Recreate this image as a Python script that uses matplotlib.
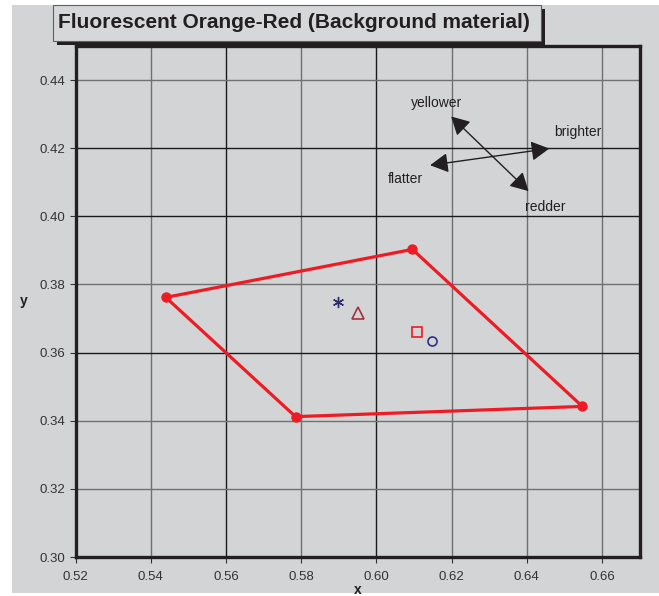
import matplotlib
matplotlib.use("Agg")
import matplotlib.pyplot as plt
from matplotlib.patches import Rectangle

plt.rcParams['font.family'] = ['Liberation Sans', 'DejaVu Sans']

# ---- data ----
poly_x = [0.544, 0.6096, 0.6548, 0.5785]
poly_y = [0.3762, 0.3903, 0.3442, 0.3412]

asterisk_xy = (0.5898, 0.3749)
triangle_xy = (0.5950, 0.3717)
square_xy = (0.6109, 0.3661)
circle_xy = (0.6148, 0.3635)

arrow1 = [(0.6199, 0.4293), (0.6405, 0.4074)]   # yellower <-> redder
arrow2 = [(0.6143, 0.4150), (0.6460, 0.4199)]   # flatter <-> brighter
label_text = ["yellower", "brighter", "flatter", "redder"]
label_x = [0.6159, 0.6535, 0.6078, 0.6449]
label_y = [0.4334, 0.4247, 0.4111, 0.4028]

x_ticks = [0.52, 0.54, 0.56, 0.58, 0.60, 0.62, 0.64, 0.66]
y_ticks = [0.30, 0.32, 0.34, 0.36, 0.38, 0.40, 0.42, 0.44]
title = "Fluorescent Orange-Red (Background material)"

W, H = 659, 596
fig = plt.figure(figsize=(W / 100, H / 100), dpi=100)
fig.patch.set_facecolor('white')

BG = '#d3d4d6'
DARK = '#231f20'

def fx(px):
    return px / W

def fy(py):
    return 1 - py / H

# gray background panel
fig.patches.append(Rectangle((fx(12), fy(593)), fx(659 - 12), (593 - 5) / H,
                             transform=fig.transFigure, facecolor=BG,
                             edgecolor='none', zorder=-10))
# title box shadow and box
fig.patches.append(Rectangle((fx(57), fy(45)), (545 - 57) / W, (45 - 9) / H,
                             transform=fig.transFigure, facecolor=DARK,
                             edgecolor='none', zorder=-9))
fig.patches.append(Rectangle((fx(53), fy(41)), (541 - 53) / W, (41 - 5) / H,
                             transform=fig.transFigure, facecolor='#d6d7d9',
                             edgecolor='#606060', linewidth=0.8, zorder=-8))
fig.text(fx(58), fy(23), title, fontsize=15, fontweight='bold', color=DARK,
         ha='left', va='center', zorder=3)

ax = fig.add_axes([fx(75.6), fy(557), (639.5 - 75.6) / W, (557 - 46) / H])
ax.set_facecolor(BG)
ax.set_xlim(0.52, 0.67)
ax.set_ylim(0.30, 0.45)
ax.set_xticks(x_ticks)
ax.set_yticks(y_ticks)
ax.set_xticklabels([f"{v:.2f}" for v in x_ticks])
ax.set_yticklabels([f"{v:.2f}" for v in y_ticks])
ax.tick_params(axis='both', labelsize=9.5, colors='#333333', length=4,
               width=0.8, direction='out')
ax.tick_params(axis='x', pad=6)

# grid lines (mix of dark and gray as in reference)
dark_x = [0.56, 0.60]
dark_y = [0.36, 0.40, 0.42]
for v in x_ticks[1:]:
    ax.axvline(v, color='#1a1a1a' if v in dark_x else '#707070', lw=1.0, zorder=1)
for v in y_ticks[1:]:
    ax.axhline(v, color='#1a1a1a' if v in dark_y else '#707070', lw=1.0, zorder=1)

for s in ax.spines.values():
    s.set_linewidth(2.4)
    s.set_color(DARK)
    s.set_zorder(5)

ax.set_xlabel('x', fontsize=10, fontweight='bold', color=DARK, labelpad=0)
ax.set_ylabel('y', fontsize=10, fontweight='bold', color=DARK, rotation=0,
              labelpad=11, va='center')

RED = '#ed1c24'
ax.plot(poly_x + poly_x[:1], poly_y + poly_y[:1], color=RED, lw=2.3,
        marker='o', markersize=6.5, markevery=[0, 1, 2, 3], zorder=4,
        solid_joinstyle='miter')

ax.plot(*asterisk_xy, marker=(6, 2, 0), color='#2b2d6e', markersize=8,
        markeredgewidth=1.0, linestyle='none', zorder=4)
ax.plot(*triangle_xy, marker='^', markerfacecolor='none',
        markeredgecolor='#a3303c', markersize=8, markeredgewidth=1.2,
        linestyle='none', zorder=4)
ax.plot(*square_xy, marker='s', markerfacecolor='none',
        markeredgecolor=RED, markersize=6.5, markeredgewidth=1.2,
        linestyle='none', zorder=4)
ax.plot(*circle_xy, marker='o', markerfacecolor='none',
        markeredgecolor='#2e3180', markersize=6.5, markeredgewidth=1.2,
        linestyle='none', zorder=4)

for a in (arrow1, arrow2):
    ax.annotate('', xy=a[1], xytext=a[0],
                arrowprops=dict(arrowstyle='<|-|>,head_length=0.55,head_width=0.3',
                                color=DARK, lw=1.0,
                                mutation_scale=20, shrinkA=0, shrinkB=0),
                zorder=4)

for t, x, y in zip(label_text, label_x, label_y):
    ax.text(x, y, t, fontsize=10, color=DARK, ha='center', va='center', zorder=4)

fig.savefig('out.png', dpi=100, facecolor=fig.get_facecolor())
